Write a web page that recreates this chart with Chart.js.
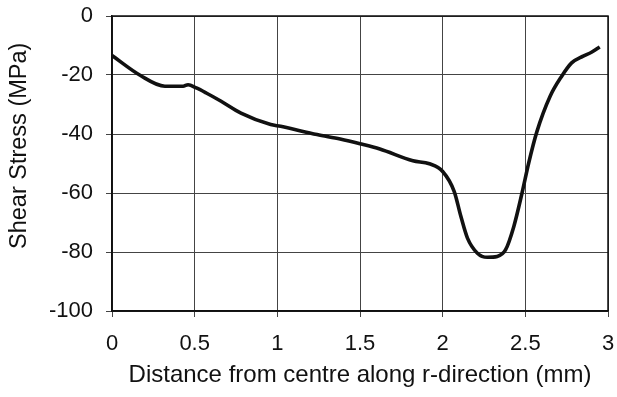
<!DOCTYPE html>
<html>
<head>
<meta charset="utf-8">
<script src="https://cdn.jsdelivr.net/npm/chart.js@4.4.0/dist/chart.umd.min.js"></script>
<style>
  html, body { margin: 0; padding: 0; background: #fff; }
  #wrap { width: 617px; height: 397px; }
</style>
</head>
<body>
<div id="wrap"><canvas id="stressChart" width="617" height="397"></canvas></div>
<script>
// Shear stress along r-direction
const distance = [
  0, 0.17, 0.32, 0.43, 0.46, 0.51, 0.57, 0.66, 0.78, 0.96, 1.02, 1.24, 1.38,
  1.5, 1.62, 1.82, 1.92, 2.0, 2.07, 2.11, 2.15, 2.21, 2.27, 2.33, 2.38, 2.43,
  2.48, 2.52, 2.57, 2.65, 2.72, 2.78, 2.85, 2.9, 2.95,
];
const shearStress = [
  -13.4, -20.1, -23.8, -23.8, -23.3, -24.4, -26.1, -28.9, -32.9, -36.8, -37.4,
  -40.2, -41.7, -43.3, -45.1, -49.1, -50.1, -52.7, -59.5, -67.9, -75.3, -80.4,
  -81.8, -81.5, -79.3, -71.4, -60, -49.9, -39.2, -27.2, -20.4, -15.9, -13.6,
  -12.3, -10.5,
];
const xTicks = [0, 0.5, 1, 1.5, 2, 2.5, 3];
const yTicks = [-100, -80, -60, -40, -20, 0];
const yTitle = "Shear Stress (MPa)";

const points = distance.map((d, i) => ({ x: d, y: shearStress[i] }));

const fontFamily = "Liberation Sans, Arial, sans-serif";
const tickFont = { family: fontFamily, size: 22 };
const titleFont = { family: fontFamily, size: 24 };

// keep the plot box where the reference has it (no room reserved for edge labels)
function noEdgePadding(axis) {
  axis.paddingLeft = 0;
  axis.paddingRight = 0;
  axis.paddingTop = 0;
  axis.paddingBottom = 0;
}

const stressConfig = {
  type: "scatter",
  data: {
    datasets: [
      {
        data: points,
        showLine: true,
        borderColor: "#111",
        borderWidth: 3.6,
        pointRadius: 0,
        tension: 0.3,
        cubicInterpolationMode: "monotone",
      },
    ],
  },
  options: {
    responsive: false,
    animation: false,
    layout: { padding: { left: 4, right: 9, top: 16, bottom: 4 } },
    plugins: {
      legend: { display: false },
      tooltip: { enabled: false },
    },
    scales: {
      x: {
        type: "linear",
        min: xTicks[0],
        max: xTicks[xTicks.length - 1],
        afterBuildTicks: (axis) => {
          axis.ticks = xTicks.map((v) => ({ value: v }));
        },
        afterFit: (axis) => {
          axis.height = 397 - 311 - 4;
          noEdgePadding(axis);
        },
        ticks: {
          color: "#111",
          font: tickFont,
          padding: 14,
          maxRotation: 0,
          callback: (v) => String(v),
        },
        grid: { color: "#444", lineWidth: 1, tickLength: 6 },
        border: { color: "#111", width: 1.5 },
        title: {
          display: true,
          text: "Distance from centre along r-direction (mm)",
          color: "#111",
          font: titleFont,
          padding: { top: 4, bottom: 3 },
        },
      },
      y: {
        min: yTicks[0],
        max: yTicks[yTicks.length - 1],
        afterBuildTicks: (axis) => {
          axis.ticks = yTicks.map((v) => ({ value: v }));
        },
        afterFit: (axis) => {
          axis.width = 112 - 4;
          noEdgePadding(axis);
        },
        ticks: { color: "#111", font: tickFont, padding: 13 },
        grid: { color: "#444", lineWidth: 1, tickLength: 6 },
        border: { color: "#111", width: 1.5 },
      },
    },
  },
  plugins: [
    {
      id: "frame",
      afterDraw: (chart) => {
        const a = chart.chartArea;
        const c = chart.ctx;
        c.save();
        c.strokeStyle = "#111";
        c.lineWidth = 1.5;
        c.strokeRect(a.left, a.top, a.right - a.left, a.bottom - a.top);
        // y title sits a little above the middle of the plot, as in the reference
        c.translate(20, a.top + (a.bottom - a.top) * 0.44);
        c.rotate(-Math.PI / 2);
        c.fillStyle = "#111";
        c.font = "23.5px " + fontFamily;
        c.textAlign = "center";
        c.textBaseline = "middle";
        c.fillText(yTitle, 0, 0);
        c.restore();
      },
    },
  ],
};

const stressChart = new Chart(document.getElementById("stressChart"), stressConfig);
</script>
</body>
</html>
